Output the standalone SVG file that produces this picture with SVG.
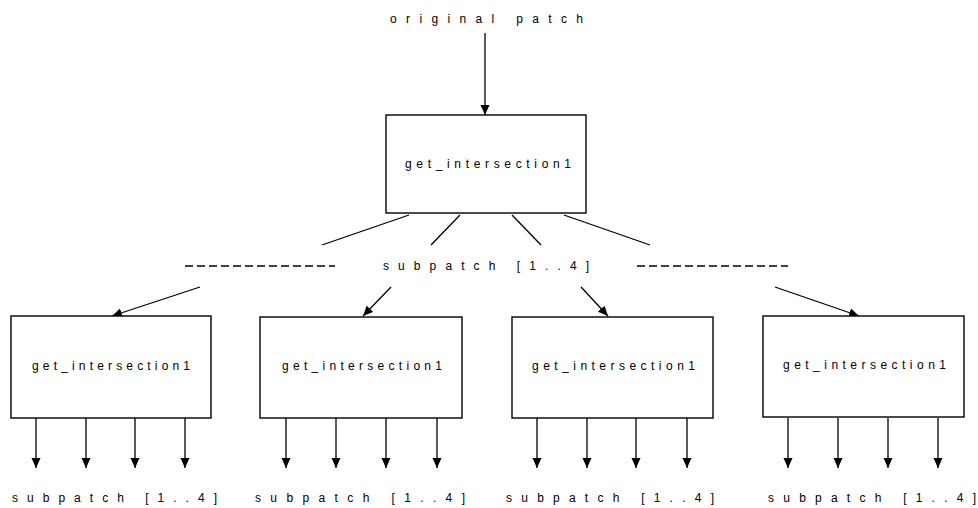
<svg xmlns="http://www.w3.org/2000/svg" width="978" height="508" viewBox="0 0 978 508">
<style>
.box{fill:#fff;stroke:#000;stroke-width:1.4}
.ln{stroke:#000;stroke-width:1.3;fill:none}
.dash{stroke:#000;stroke-width:1.3;stroke-dasharray:8,4;fill:none}
text{font-family:"Liberation Sans",Arial,sans-serif;font-size:12px;fill:#000}
</style>
<defs>
<marker id="ah" markerUnits="userSpaceOnUse" markerWidth="11" markerHeight="10" refX="10" refY="4.5" orient="auto">
<path d="M0,0 L10,4.5 L0,9 z" fill="#000"/>
</marker>
</defs>
<rect width="978" height="508" fill="#fff"/>
<text id="t-original" x="390" y="23" textLength="193" lengthAdjust="spacing">original  patch</text>
<g id="connectors">
<line class="ln" x1="485" y1="33" x2="485" y2="115" marker-end="url(#ah)"/>
<line class="ln" x1="409" y1="215" x2="322" y2="245"/>
<line class="ln" x1="460" y1="215" x2="431" y2="245"/>
<line class="ln" x1="512" y1="215" x2="541" y2="245"/>
<line class="ln" x1="564" y1="215" x2="650" y2="245"/>
<line class="dash" x1="185" y1="266" x2="335" y2="266"/>
<line class="dash" x1="637" y1="266" x2="788" y2="266"/>
<line class="ln" x1="200" y1="287" x2="112" y2="316" marker-end="url(#ah)"/>
<line class="ln" x1="391" y1="287" x2="363" y2="316" marker-end="url(#ah)"/>
<line class="ln" x1="581" y1="287" x2="608" y2="316" marker-end="url(#ah)"/>
<line class="ln" x1="775" y1="287" x2="859" y2="316" marker-end="url(#ah)"/>
<line class="ln" x1="36" y1="418" x2="36" y2="468" marker-end="url(#ah)"/>
<line class="ln" x1="86" y1="418" x2="86" y2="468" marker-end="url(#ah)"/>
<line class="ln" x1="135" y1="418" x2="135" y2="468" marker-end="url(#ah)"/>
<line class="ln" x1="185" y1="418" x2="185" y2="468" marker-end="url(#ah)"/>
<line class="ln" x1="286" y1="418" x2="286" y2="468" marker-end="url(#ah)"/>
<line class="ln" x1="336" y1="418" x2="336" y2="468" marker-end="url(#ah)"/>
<line class="ln" x1="386" y1="418" x2="386" y2="468" marker-end="url(#ah)"/>
<line class="ln" x1="437" y1="418" x2="437" y2="468" marker-end="url(#ah)"/>
<line class="ln" x1="537" y1="418" x2="537" y2="468" marker-end="url(#ah)"/>
<line class="ln" x1="587" y1="418" x2="587" y2="468" marker-end="url(#ah)"/>
<line class="ln" x1="636" y1="418" x2="636" y2="468" marker-end="url(#ah)"/>
<line class="ln" x1="687" y1="418" x2="687" y2="468" marker-end="url(#ah)"/>
<line class="ln" x1="788" y1="418" x2="788" y2="468" marker-end="url(#ah)"/>
<line class="ln" x1="838" y1="418" x2="838" y2="468" marker-end="url(#ah)"/>
<line class="ln" x1="888" y1="418" x2="888" y2="468" marker-end="url(#ah)"/>
<line class="ln" x1="938" y1="418" x2="938" y2="468" marker-end="url(#ah)"/>
</g>
<g id="top">
<rect class="box" x="386" y="115" width="200" height="98"/>
<text x="405" y="168" textLength="166" lengthAdjust="spacing">get_intersection1</text>
</g>
<text id="t-mid" x="383" y="270" textLength="206" lengthAdjust="spacing">subpatch [1..4]</text>
<g id="n1">
<rect class="box" x="11" y="316" width="200" height="102"/>
<text x="32" y="370" textLength="158" lengthAdjust="spacing">get_intersection1</text>
<text x="12" y="502" textLength="205" lengthAdjust="spacing">subpatch [1..4]</text>
</g>
<g id="n2">
<rect class="box" x="260" y="317" width="202" height="101"/>
<text x="282" y="370" textLength="160" lengthAdjust="spacing">get_intersection1</text>
<text x="255" y="502" textLength="210" lengthAdjust="spacing">subpatch [1..4]</text>
</g>
<g id="n3">
<rect class="box" x="512" y="317" width="201" height="101"/>
<text x="532" y="370" textLength="163" lengthAdjust="spacing">get_intersection1</text>
<text x="506" y="502" textLength="208" lengthAdjust="spacing">subpatch [1..4]</text>
</g>
<g id="n4">
<rect class="box" x="763" y="316" width="201" height="101"/>
<text x="783" y="369" textLength="163" lengthAdjust="spacing">get_intersection1</text>
<text x="768" y="502" textLength="208" lengthAdjust="spacing">subpatch [1..4]</text>
</g>
</svg>
